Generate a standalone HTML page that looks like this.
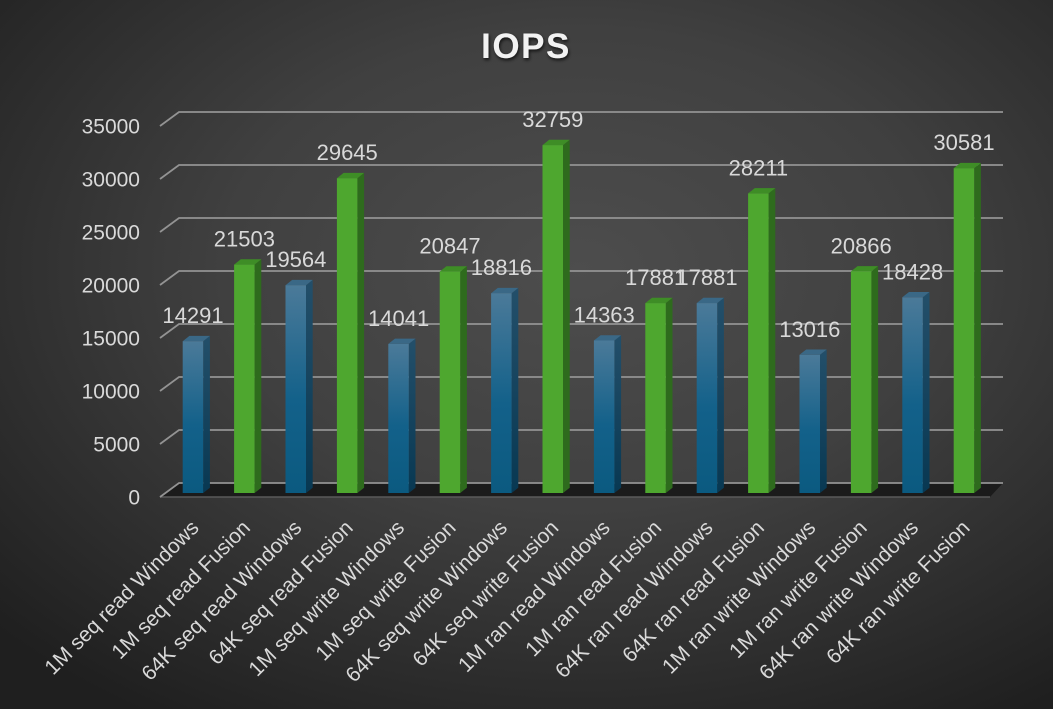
<!DOCTYPE html>
<html>
<head>
<meta charset="utf-8">
<style>
html,body{margin:0;padding:0;width:1053px;height:709px;overflow:hidden;background:#2a2a2a;}
svg{display:block;}
text{font-family:"Liberation Sans",sans-serif;}
</style>
</head>
<body>
<svg width="1053" height="709" viewBox="0 0 1053 709" xmlns="http://www.w3.org/2000/svg">
<defs>
  <radialGradient id="bg" cx="0.55" cy="0.38" r="0.75" fx="0.55" fy="0.38">
    <stop offset="0" stop-color="#4d4d4d"/>
    <stop offset="0.45" stop-color="#404040"/>
    <stop offset="1" stop-color="#1f1f1f"/>
  </radialGradient>
  <linearGradient id="bf" x1="0" y1="0" x2="0" y2="1">
    <stop offset="0" stop-color="#4b7a99"/>
    <stop offset="0.55" stop-color="#13618a"/>
    <stop offset="1" stop-color="#0b5a80"/>
  </linearGradient>
  <linearGradient id="bs" x1="0" y1="0" x2="0" y2="1">
    <stop offset="0" stop-color="#234f6a"/>
    <stop offset="1" stop-color="#083852"/>
  </linearGradient>
  <filter id="sh" x="-20%" y="-20%" width="140%" height="160%">
    <feDropShadow dx="1" dy="2" stdDeviation="1.5" flood-color="#000" flood-opacity="0.7"/>
  </filter>
</defs>
<rect x="0" y="0" width="1053" height="709" fill="url(#bg)"/>

<!-- title -->
<text x="526" y="58" text-anchor="middle" font-size="35" font-weight="bold" fill="#f2f2f2" letter-spacing="1.5" filter="url(#sh)">IOPS</text>

<!-- floor -->
<polygon points="179,483 1003,483 990,497 160,497" fill="#1b1b1b"/>
<line x1="160" y1="497" x2="990" y2="497" stroke="#5a5a5a" stroke-width="1.5"/>

<!-- gridlines -->
<g fill="none" stroke="#939393" stroke-width="1.8">
  <polyline points="160,497 179,483 1003,483"/>
  <polyline points="160,444 179,430 1003,430"/>
  <polyline points="160,391 179,377 1003,377"/>
  <polyline points="160,338 179,324 1003,324"/>
  <polyline points="160,285 179,271 1003,271"/>
  <polyline points="160,232 179,218 1003,218"/>
  <polyline points="160,179 179,165 1003,165"/>
  <polyline points="160,126 179,112 1003,112"/>
</g>

<!-- y labels -->
<g font-size="21" fill="#d9d9d9" text-anchor="end">
  <text x="140" y="504.5">0</text>
  <text x="140" y="451.5">5000</text>
  <text x="140" y="398.5">10000</text>
  <text x="140" y="345.5">15000</text>
  <text x="140" y="292.5">20000</text>
  <text x="140" y="239.5">25000</text>
  <text x="140" y="186.5">30000</text>
  <text x="140" y="133.5">35000</text>
</g>

<!-- bars -->
<g id="bars">
  <!-- 1 blue 14291 -->
  <g>
    <polygon points="203.2,341.2 209.9,335.9 209.9,487.7 203.2,493" fill="url(#bs)"/>
    <polygon points="182.7,341.2 189.4,335.9 209.9,335.9 203.2,341.2" fill="#3a6886"/>
    <rect x="182.7" y="341.2" width="20.5" height="151.8" fill="url(#bf)"/>
  </g>
  <!-- 2 green 21503 -->
  <g>
    <polygon points="254.6,264.6 261.3,259.3 261.3,487.7 254.6,493" fill="#2e6b1d"/>
    <polygon points="234.1,264.6 240.8,259.3 261.3,259.3 254.6,264.6" fill="#3e8d26"/>
    <rect x="234.1" y="264.6" width="20.5" height="228.4" fill="#4ea72f"/>
  </g>
  <!-- 3 blue 19564 -->
  <g>
    <polygon points="306,285.2 312.7,279.9 312.7,487.7 306,493" fill="url(#bs)"/>
    <polygon points="285.5,285.2 292.2,279.9 312.7,279.9 306,285.2" fill="#3a6886"/>
    <rect x="285.5" y="285.2" width="20.5" height="207.8" fill="url(#bf)"/>
  </g>
  <!-- 4 green 29645 -->
  <g>
    <polygon points="357.4,178.2 364.1,172.9 364.1,487.7 357.4,493" fill="#2e6b1d"/>
    <polygon points="336.9,178.2 343.6,172.9 364.1,172.9 357.4,178.2" fill="#3e8d26"/>
    <rect x="336.9" y="178.2" width="20.5" height="314.8" fill="#4ea72f"/>
  </g>
  <!-- 5 blue 14041 -->
  <g>
    <polygon points="408.8,343.9 415.5,338.6 415.5,487.7 408.8,493" fill="url(#bs)"/>
    <polygon points="388.3,343.9 395,338.6 415.5,338.6 408.8,343.9" fill="#3a6886"/>
    <rect x="388.3" y="343.9" width="20.5" height="149.1" fill="url(#bf)"/>
  </g>
  <!-- 6 green 20847 -->
  <g>
    <polygon points="460.2,271.6 466.9,266.3 466.9,487.7 460.2,493" fill="#2e6b1d"/>
    <polygon points="439.7,271.6 446.4,266.3 466.9,266.3 460.2,271.6" fill="#3e8d26"/>
    <rect x="439.7" y="271.6" width="20.5" height="221.4" fill="#4ea72f"/>
  </g>
  <!-- 7 blue 18816 -->
  <g>
    <polygon points="511.6,293.2 518.3,287.9 518.3,487.7 511.6,493" fill="url(#bs)"/>
    <polygon points="491.1,293.2 497.8,287.9 518.3,287.9 511.6,293.2" fill="#3a6886"/>
    <rect x="491.1" y="293.2" width="20.5" height="199.8" fill="url(#bf)"/>
  </g>
  <!-- 8 green 32759 -->
  <g>
    <polygon points="563,145.1 569.7,139.8 569.7,487.7 563,493" fill="#2e6b1d"/>
    <polygon points="542.5,145.1 549.2,139.8 569.7,139.8 563,145.1" fill="#3e8d26"/>
    <rect x="542.5" y="145.1" width="20.5" height="347.9" fill="#4ea72f"/>
  </g>
  <!-- 9 blue 14363 -->
  <g>
    <polygon points="614.4,340.5 621.1,335.2 621.1,487.7 614.4,493" fill="url(#bs)"/>
    <polygon points="593.9,340.5 600.6,335.2 621.1,335.2 614.4,340.5" fill="#3a6886"/>
    <rect x="593.9" y="340.5" width="20.5" height="152.5" fill="url(#bf)"/>
  </g>
  <!-- 10 green 17881 -->
  <g>
    <polygon points="665.8,303.1 672.5,297.8 672.5,487.7 665.8,493" fill="#2e6b1d"/>
    <polygon points="645.3,303.1 652,297.8 672.5,297.8 665.8,303.1" fill="#3e8d26"/>
    <rect x="645.3" y="303.1" width="20.5" height="189.9" fill="#4ea72f"/>
  </g>
  <!-- 11 blue 17881 -->
  <g>
    <polygon points="717.2,303.1 723.9,297.8 723.9,487.7 717.2,493" fill="url(#bs)"/>
    <polygon points="696.7,303.1 703.4,297.8 723.9,297.8 717.2,303.1" fill="#3a6886"/>
    <rect x="696.7" y="303.1" width="20.5" height="189.9" fill="url(#bf)"/>
  </g>
  <!-- 12 green 28211 -->
  <g>
    <polygon points="768.6,193.4 775.3,188.1 775.3,487.7 768.6,493" fill="#2e6b1d"/>
    <polygon points="748.1,193.4 754.8,188.1 775.3,188.1 768.6,193.4" fill="#3e8d26"/>
    <rect x="748.1" y="193.4" width="20.5" height="299.6" fill="#4ea72f"/>
  </g>
  <!-- 13 blue 13016 -->
  <g>
    <polygon points="820,354.8 826.7,349.5 826.7,487.7 820,493" fill="url(#bs)"/>
    <polygon points="799.5,354.8 806.2,349.5 826.7,349.5 820,354.8" fill="#3a6886"/>
    <rect x="799.5" y="354.8" width="20.5" height="138.2" fill="url(#bf)"/>
  </g>
  <!-- 14 green 20866 -->
  <g>
    <polygon points="871.4,271.4 878.1,266.1 878.1,487.7 871.4,493" fill="#2e6b1d"/>
    <polygon points="850.9,271.4 857.6,266.1 878.1,266.1 871.4,271.4" fill="#3e8d26"/>
    <rect x="850.9" y="271.4" width="20.5" height="221.6" fill="#4ea72f"/>
  </g>
  <!-- 15 blue 18428 -->
  <g>
    <polygon points="922.8,297.3 929.5,292 929.5,487.7 922.8,493" fill="url(#bs)"/>
    <polygon points="902.3,297.3 909,292 929.5,292 922.8,297.3" fill="#3a6886"/>
    <rect x="902.3" y="297.3" width="20.5" height="195.7" fill="url(#bf)"/>
  </g>
  <!-- 16 green 30581 -->
  <g>
    <polygon points="974.2,168.2 980.9,162.9 980.9,487.7 974.2,493" fill="#2e6b1d"/>
    <polygon points="953.7,168.2 960.4,162.9 980.9,162.9 974.2,168.2" fill="#3e8d26"/>
    <rect x="953.7" y="168.2" width="20.5" height="324.8" fill="#4ea72f"/>
  </g>
</g>

<!-- value labels -->
<g font-size="22" fill="#d9d9d9" text-anchor="middle">
  <text x="193" y="323.2">14291</text>
  <text x="244.4" y="246.6">21503</text>
  <text x="295.8" y="267.2">19564</text>
  <text x="347.2" y="160.2">29645</text>
  <text x="398.6" y="325.9">14041</text>
  <text x="450" y="253.6">20847</text>
  <text x="501.4" y="275.2">18816</text>
  <text x="552.8" y="127.1">32759</text>
  <text x="604.2" y="322.5">14363</text>
  <text x="655.6" y="285.1">17881</text>
  <text x="707" y="285.1">17881</text>
  <text x="758.4" y="175.4">28211</text>
  <text x="809.8" y="336.8">13016</text>
  <text x="861.2" y="253.4">20866</text>
  <text x="912.6" y="279.3">18428</text>
  <text x="964" y="150.2">30581</text>
</g>

<!-- x labels -->
<g font-size="21" fill="#d9d9d9" text-anchor="end">
  <text transform="translate(200,529) rotate(-45)">1M seq read Windows</text>
  <text transform="translate(251.4,529) rotate(-45)">1M seq read Fusion</text>
  <text transform="translate(302.8,529) rotate(-45)">64K seq read Windows</text>
  <text transform="translate(354.2,529) rotate(-45)">64K seq read Fusion</text>
  <text transform="translate(405.6,529) rotate(-45)">1M seq write Windows</text>
  <text transform="translate(457,529) rotate(-45)">1M seq write Fusion</text>
  <text transform="translate(508.4,529) rotate(-45)">64K seq write Windows</text>
  <text transform="translate(559.8,529) rotate(-45)">64K seq write Fusion</text>
  <text transform="translate(611.2,529) rotate(-45)">1M ran read Windows</text>
  <text transform="translate(662.6,529) rotate(-45)">1M ran read Fusion</text>
  <text transform="translate(714,529) rotate(-45)">64K ran read Windows</text>
  <text transform="translate(765.4,529) rotate(-45)">64K ran read Fusion</text>
  <text transform="translate(816.8,529) rotate(-45)">1M ran write Windows</text>
  <text transform="translate(868.2,529) rotate(-45)">1M ran write Fusion</text>
  <text transform="translate(919.6,529) rotate(-45)">64K ran write Windows</text>
  <text transform="translate(971,529) rotate(-45)">64K ran write Fusion</text>
</g>
</svg>
</body>
</html>
